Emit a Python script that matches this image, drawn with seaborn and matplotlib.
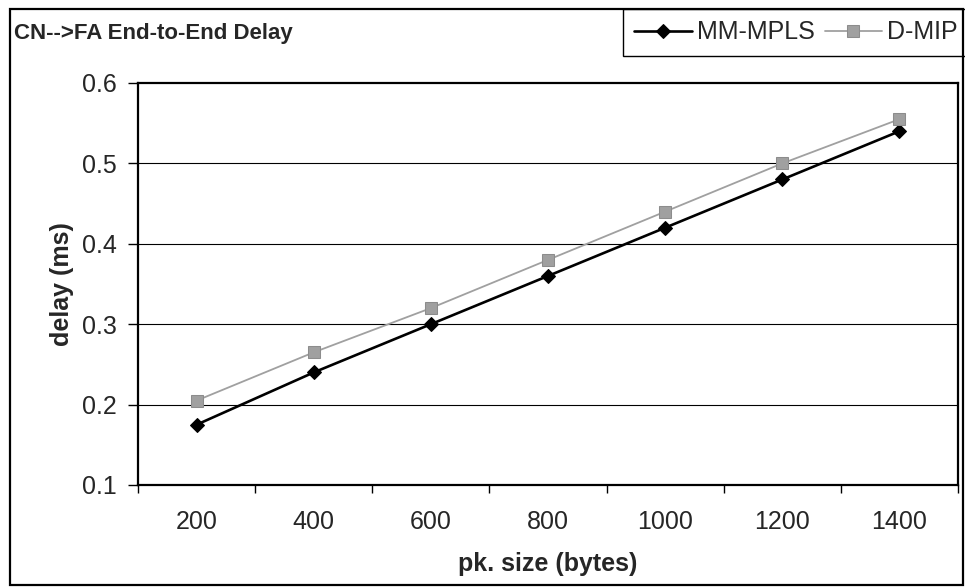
import matplotlib
matplotlib.use("Agg")
import matplotlib.pyplot as plt
from matplotlib.patches import Rectangle
from matplotlib.ticker import FixedLocator, NullFormatter
import seaborn as sns
import pandas as pd
import numpy as np

# Packet sizes (bytes) and measured CN->FA end-to-end delay (ms)
pkt_sizes = ["200", "400", "600", "800", "1000", "1200", "1400"]
mm_mpls = [0.175, 0.24, 0.30, 0.36, 0.42, 0.48, 0.54]
d_mip = [0.205, 0.265, 0.32, 0.38, 0.44, 0.50, 0.555]
y_ticks = [0.1, 0.2, 0.3, 0.4, 0.5, 0.6]

sns.set_style("white")
plt.rcParams["font.family"] = ["Liberation Sans", "DejaVu Sans"]

W, H = 965, 587
fig = plt.figure(figsize=(W / 100, H / 100), dpi=100)
ax = fig.add_axes([138 / W, 1 - 485 / H, (958 - 138) / W, (485 - 83) / H])

df = pd.DataFrame({
    "size": pkt_sizes * 2,
    "delay": mm_mpls + d_mip,
    "series": ["MM-MPLS"] * len(pkt_sizes) + ["D-MIP"] * len(pkt_sizes),
})

sns.lineplot(data=df[df.series == "MM-MPLS"], x="size", y="delay", ax=ax,
             color="black", lw=1.9, marker="D", markersize=6.8,
             markeredgecolor="black", markerfacecolor="black",
             label="MM-MPLS", sort=False)
sns.lineplot(data=df[df.series == "D-MIP"], x="size", y="delay", ax=ax,
             color="#a0a0a0", lw=1.3, marker="s", markersize=8.3,
             markeredgecolor="#8c8c8c", markerfacecolor="#a0a0a0",
             label="D-MIP", sort=False)

n = len(pkt_sizes)
ax.set_xlim(-0.5, n - 0.5)
ax.set_ylim(0.1, 0.6)
ax.set_yticks(y_ticks)
ax.set_yticklabels([f"{v:.1f}" for v in y_ticks])

# category labels centred, tick marks on category boundaries
ax.set_xticks(range(n))
ax.set_xticklabels(pkt_sizes)
ax.xaxis.set_minor_locator(FixedLocator(np.arange(-0.5, n, 1.0)))
ax.xaxis.set_minor_formatter(NullFormatter())
ax.tick_params(axis="x", which="major", length=0, pad=18, labelsize=18)
ax.tick_params(axis="x", which="minor", length=6, width=1, color="black",
               direction="out", bottom=True)
ax.tick_params(axis="y", which="major", length=7, width=1, color="black",
               direction="out", left=True, pad=8, labelsize=18)

for g in y_ticks[1:-1]:
    ax.axhline(g, color="black", lw=0.8, zorder=0)

for s in ax.spines.values():
    s.set_visible(True)
    s.set_color("black")
    s.set_linewidth(1.6)

ax.set_xlabel("pk. size (bytes)", fontsize=18, fontweight="bold", labelpad=13)
ax.set_ylabel("delay (ms)", fontsize=18, fontweight="bold", labelpad=6)

fig.text(14 / W, 1 - 34 / H, "CN-->FA End-to-End Delay", fontsize=16,
         fontweight="bold", ha="left", va="center")

leg = ax.legend(loc="upper left", bbox_to_anchor=(623 / W, 1 - 9 / H),
                bbox_transform=fig.transFigure, ncol=2, fontsize=18,
                frameon=True, fancybox=False, edgecolor="black",
                framealpha=1, borderaxespad=0, borderpad=0.45,
                handlelength=2.3, handletextpad=0.2, columnspacing=0.4)
leg.get_frame().set_linewidth(1.0)

# outer chart border
fig.patches.append(Rectangle((10 / W, 1 - 585 / H), (963 - 10) / W,
                             (585 - 9) / H, transform=fig.transFigure,
                             fill=False, edgecolor="black", lw=1.6))

fig.savefig("out.png", dpi=100)
